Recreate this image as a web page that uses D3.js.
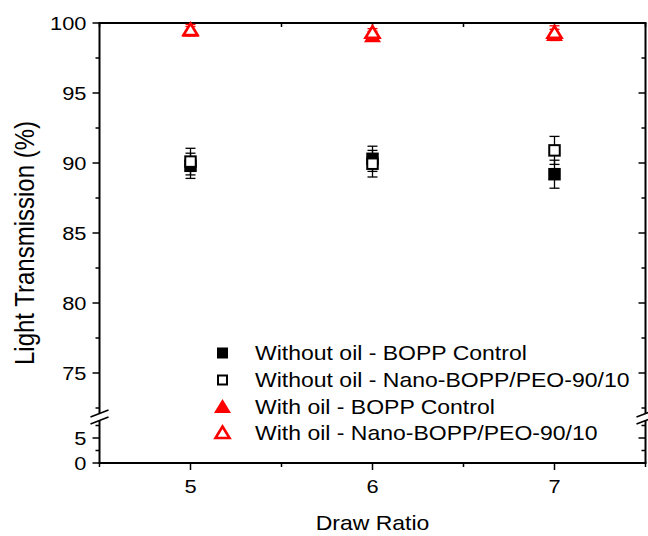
<!DOCTYPE html>
<html>
<head>
<meta charset="utf-8">
<script src="https://cdn.jsdelivr.net/npm/d3@7"></script>
<style>
  body { margin: 0; background: #fff; }
  svg { display: block; font-family: "Liberation Sans", Arial, sans-serif; }
</style>
</head>
<body>
<svg id="chart"></svg>
<script>
// Light transmission vs draw ratio, broken y axis

const drawRatio = [5, 6, 7];

const noOilControl = [89.8, 90.3, 89.2];
const noOilControlErr = [0.9, 0.9, 1.0];
const noOilNano = [90.1, 89.95, 90.9];
const noOilNanoErr = [0.95, 0.95, 1.0];
const oilControl = [99.45, 99.05, 99.15];
const oilControlErr = [0.3, 0.35, 0.4];
const oilNano = [99.5, 99.3, 99.3];
const oilNanoErr = [0.4, 0.3, 0.5];

const legendLabels = [
  "Without oil - BOPP Control",
  "Without oil - Nano-BOPP/PEO-90/10",
  "With oil - BOPP Control",
  "With oil - Nano-BOPP/PEO-90/10",
];

const upperTicks = [75, 80, 85, 90, 95, 100];
const lowerTicks = [0, 5];
const xTicks = [5, 6, 7];

const width = 648;
const height = 536;
const svg = d3.select("#chart").attr("width", width).attr("height", height);

const plotLeft = 99.5, plotRight = 645.5, plotTop = 23, plotBottom = 463;
const breakTop = 413, breakBot = 421;

const x = d3.scaleLinear().domain([4.5, 7.5]).range([plotLeft, plotRight]);
const yUp = d3.scaleLinear().domain([72, 100]).range([415, plotTop]);
const yLo = d3.scaleLinear().domain([0, 9]).range([plotBottom, 418]);

const RED = "#ff0000";
const stretch = 1.15; // source figure text is a bit wide

// text helper: places text then widens it horizontally
function addText(parent, tx, ty, str, size, anchor, rot) {
  const g = parent.append("g")
    .attr("transform", `translate(${tx},${ty}) scale(${stretch},1)` + (rot ? ` rotate(${rot})` : ""));
  return g.append("text").attr("font-size", size).attr("text-anchor", anchor || "start").text(str);
}

// ----- axes frame -----
const axisG = svg.append("g").attr("stroke", "#000").attr("stroke-width", 2).attr("fill", "none");
[plotLeft, plotRight].forEach((ax) => {
  axisG.append("line").attr("x1", ax).attr("x2", ax).attr("y1", plotTop).attr("y2", breakTop);
  axisG.append("line").attr("x1", ax).attr("x2", ax).attr("y1", breakBot).attr("y2", plotBottom);
  // break slashes
  axisG.append("line").attr("x1", ax - 9).attr("y1", 417).attr("x2", ax + 9).attr("y2", 410).attr("stroke-width", 1.6);
  axisG.append("line").attr("x1", ax - 9).attr("y1", 424).attr("x2", ax + 9).attr("y2", 417).attr("stroke-width", 1.6);
});
axisG.append("line").attr("x1", plotLeft - 1).attr("x2", plotRight + 1).attr("y1", plotTop).attr("y2", plotTop);
axisG.append("line").attr("x1", plotLeft - 1).attr("x2", plotRight + 1).attr("y1", plotBottom).attr("y2", plotBottom);

// ----- ticks -----
const tickG = svg.append("g").attr("stroke", "#000").attr("stroke-width", 1.5);
const upperMinor = d3.range(72.5, 100, 5);
const lowerMinor = [2.5, 7.5];

function yTick(yv, len) {
  tickG.append("line").attr("x1", plotLeft - len).attr("x2", plotLeft).attr("y1", yv).attr("y2", yv);
  tickG.append("line").attr("x1", plotRight - len).attr("x2", plotRight).attr("y1", yv).attr("y2", yv);
}
upperTicks.forEach((v) => yTick(yUp(v), 7));
upperMinor.forEach((v) => yTick(yUp(v), 4));
lowerTicks.forEach((v) => yTick(yLo(v), 7));
lowerMinor.forEach((v) => yTick(yLo(v), 4));

function xTick(xv, len) {
  tickG.append("line").attr("x1", xv).attr("x2", xv).attr("y1", plotBottom).attr("y2", plotBottom + len);
  tickG.append("line").attr("x1", xv).attr("x2", xv).attr("y1", plotTop).attr("y2", plotTop + len);
}
xTicks.forEach((v) => xTick(x(v), 7));
[4.5, 5.5, 6.5, 7.5].forEach((v) => xTick(x(v), 4));

// ----- tick labels -----
const labelG = svg.append("g").attr("fill", "#000");
upperTicks.forEach((v) => {
  addText(labelG, plotLeft - 13, yUp(v) + 7, v, 19, "end");
});
lowerTicks.forEach((v) => {
  addText(labelG, plotLeft - 13, yLo(v) + 7, v, 19, "end");
});
xTicks.forEach((v) => {
  addText(labelG, x(v), plotBottom + 30, v, 19, "middle");
});

// axis titles
addText(svg, 34, 243, "Light Transmission (%)", 24, "middle", -90);
addText(svg, (plotLeft + plotRight) / 2, 530, "Draw Ratio", 20, "middle");

// ----- symbols -----
function square(g, cx, cy, s, filled, color) {
  if (filled) {
    g.append("rect").attr("x", cx - s / 2).attr("y", cy - s / 2).attr("width", s).attr("height", s)
      .attr("fill", color);
  } else {
    g.append("rect").attr("x", cx - s / 2 + 1).attr("y", cy - s / 2 + 1).attr("width", s - 2).attr("height", s - 2)
      .attr("fill", "#fff").attr("stroke", color).attr("stroke-width", 2);
  }
}
function triangle(g, cx, cy, filled, color) {
  if (filled) {
    g.append("path").attr("d", `M${cx},${cy - 8} L${cx + 8.5},${cy + 6} L${cx - 8.5},${cy + 6} Z`)
      .attr("fill", color);
  } else {
    g.append("path").attr("d", `M${cx},${cy - 6.5} L${cx + 7},${cy + 5} L${cx - 7},${cy + 5} Z`)
      .attr("fill", "#fff").attr("stroke", color).attr("stroke-width", 2.6).attr("stroke-linejoin", "miter");
  }
}

const series = [
  { vals: noOilControl, err: noOilControlErr, shape: "square", filled: true, color: "#000" },
  { vals: noOilNano, err: noOilNanoErr, shape: "square", filled: false, color: "#000" },
  { vals: oilControl, err: oilControlErr, shape: "triangle", filled: true, color: RED },
  { vals: oilNano, err: oilNanoErr, shape: "triangle", filled: false, color: RED },
];

const plotG = svg.append("g");
series.forEach((s) => {
  const g = plotG.append("g");
  drawRatio.forEach((dr, i) => {
    const cx = x(dr);
    const lo = yUp(s.vals[i] - s.err[i]);
    const hi = yUp(s.vals[i] + s.err[i]);
    const eb = g.append("g").attr("stroke", s.color).attr("stroke-width", 1.3);
    eb.append("line").attr("x1", cx).attr("x2", cx).attr("y1", lo).attr("y2", hi);
    eb.append("line").attr("x1", cx - 5).attr("x2", cx + 5).attr("y1", lo).attr("y2", lo);
    eb.append("line").attr("x1", cx - 5).attr("x2", cx + 5).attr("y1", hi).attr("y2", hi);
    const cy = yUp(s.vals[i]);
    if (s.shape === "square") square(g, cx, cy, 12.5, s.filled, s.color);
    else triangle(g, cx, cy, s.filled, s.color);
  });
});

// ----- legend -----
const legG = svg.append("g");
const legRowY = [353, 380, 407, 433];
series.forEach((s, i) => {
  const cy = legRowY[i];
  if (s.shape === "square") square(legG, 222.5, cy, 11, s.filled, s.color);
  else triangle(legG, 222.5, cy, s.filled, s.color);
  addText(legG, 255, cy + 7, legendLabels[i], 20, "start");
});
</script>
</body>
</html>
